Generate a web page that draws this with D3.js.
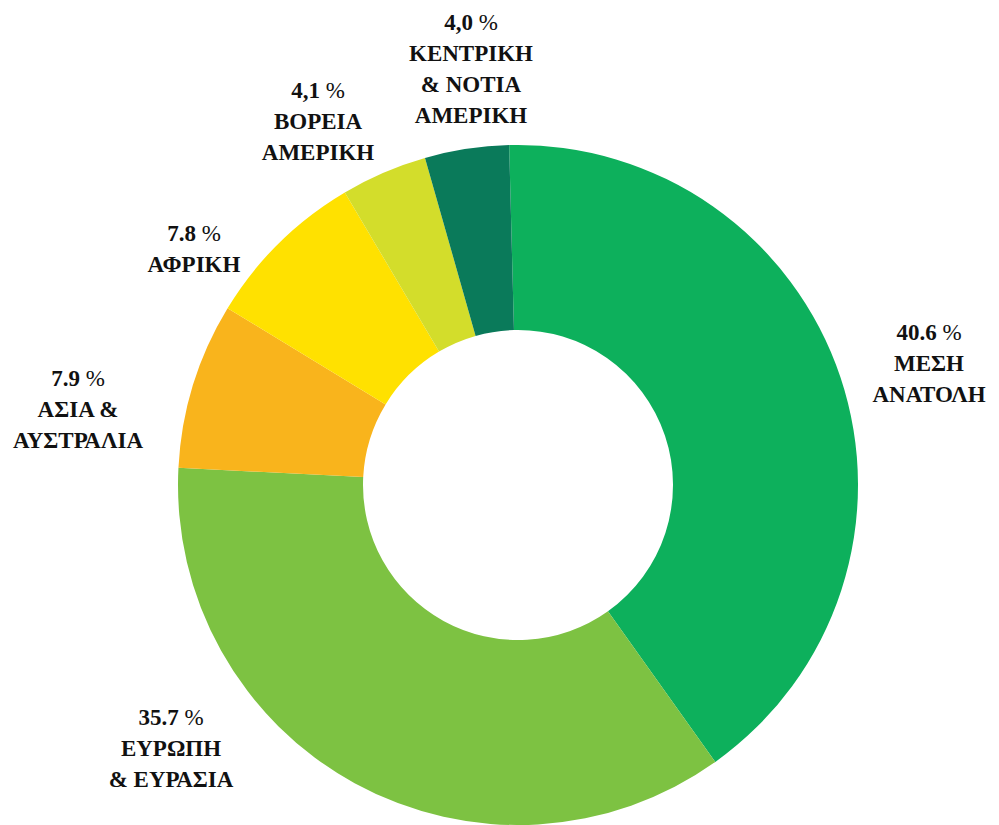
<!DOCTYPE html>
<html>
<head>
<meta charset="utf-8">
<script src="https://cdn.jsdelivr.net/npm/d3@7"></script>
<style>
  html, body { margin: 0; padding: 0; background: #ffffff; }
  svg { display: block; }
  text { font-family: "Liberation Serif", "DejaVu Serif", serif; font-weight: bold; fill: #111111; }
</style>
</head>
<body>
<svg id="chart" width="999" height="825"></svg>
<script>
// ---- data ----
const regions = ["ΜΕΣΗ ΑΝΑΤΟΛΗ", "ΕΥΡΩΠΗ & ΕΥΡΑΣΙΑ", "ΑΣΙΑ & ΑΥΣΤΡΑΛΙΑ", "ΑΦΡΙΚΗ", "ΒΟΡΕΙΑ ΑΜΕΡΙΚΗ", "ΚΕΝΤΡΙΚΗ & ΝΟΤΙΑ ΑΜΕΡΙΚΗ"];
const shares = [40.6, 35.7, 7.9, 7.8, 4.1, 4.0];
const shareLabels = ["40.6", "35.7", "7.9", "7.8", "4,1", "4,0"];
const nameLines = [
  ["ΜΕΣΗ", "ΑΝΑΤΟΛΗ"],
  ["ΕΥΡΩΠΗ", "& ΕΥΡΑΣΙΑ"],
  ["ΑΣΙΑ &", "ΑΥΣΤΡΑΛΙΑ"],
  ["ΑΦΡΙΚΗ"],
  ["ΒΟΡΕΙΑ", "ΑΜΕΡΙΚΗ"],
  ["ΚΕΝΤΡΙΚΗ", "& ΝΟΤΙΑ", "ΑΜΕΡΙΚΗ"]
];

// ---- styles / layout ----
const colors = ["#0db05c", "#7dc242", "#f9b41c", "#ffe100", "#d3dd2b", "#0a7a5a"];
// label first-line centre, relative to the donut centre
const labelOffsets = [[411, -153], [-347, 232], [-440, -107], [-324, -252], [-200, -395], [-47, -463]];
const cx = 518, cy = 485, outerR = 340, innerR = 155;
const startAngle = -0.026;
const lineGap = 31, fontSize = 23;

const svg = d3.select("#chart");
const g = svg.append("g").attr("transform", `translate(${cx},${cy})`);

const data = regions.map((r, i) => ({ region: r, value: shares[i], i }));
const pie = d3.pie().value(d => d.value).sort(null)
  .startAngle(startAngle).endAngle(startAngle + 2 * Math.PI);
const arc = d3.arc().innerRadius(innerR).outerRadius(outerR);

g.selectAll("path.slice")
  .data(pie(data))
  .join("path")
  .attr("class", "slice")
  .attr("d", arc)
  .attr("fill", d => colors[d.data.i]);

const labels = g.selectAll("g.label")
  .data(data)
  .join("g")
  .attr("class", "label")
  .attr("transform", d => `translate(${labelOffsets[d.i][0]},${labelOffsets[d.i][1]})`);

labels.each(function(d) {
  const sel = d3.select(this);
  const t = sel.append("text")
    .attr("text-anchor", "middle")
    .attr("y", 0)
    .attr("dy", "0.33em")
    .attr("font-size", fontSize);
  t.append("tspan").text(shareLabels[d.i] + " ");
  t.append("tspan").attr("font-weight", "normal").text("%");
  nameLines[d.i].forEach((line, k) => {
    sel.append("text")
      .attr("text-anchor", "middle")
      .attr("y", (k + 1) * lineGap)
      .attr("dy", "0.33em")
      .attr("font-size", fontSize)
      .text(line);
  });
});
</script>
</body>
</html>
